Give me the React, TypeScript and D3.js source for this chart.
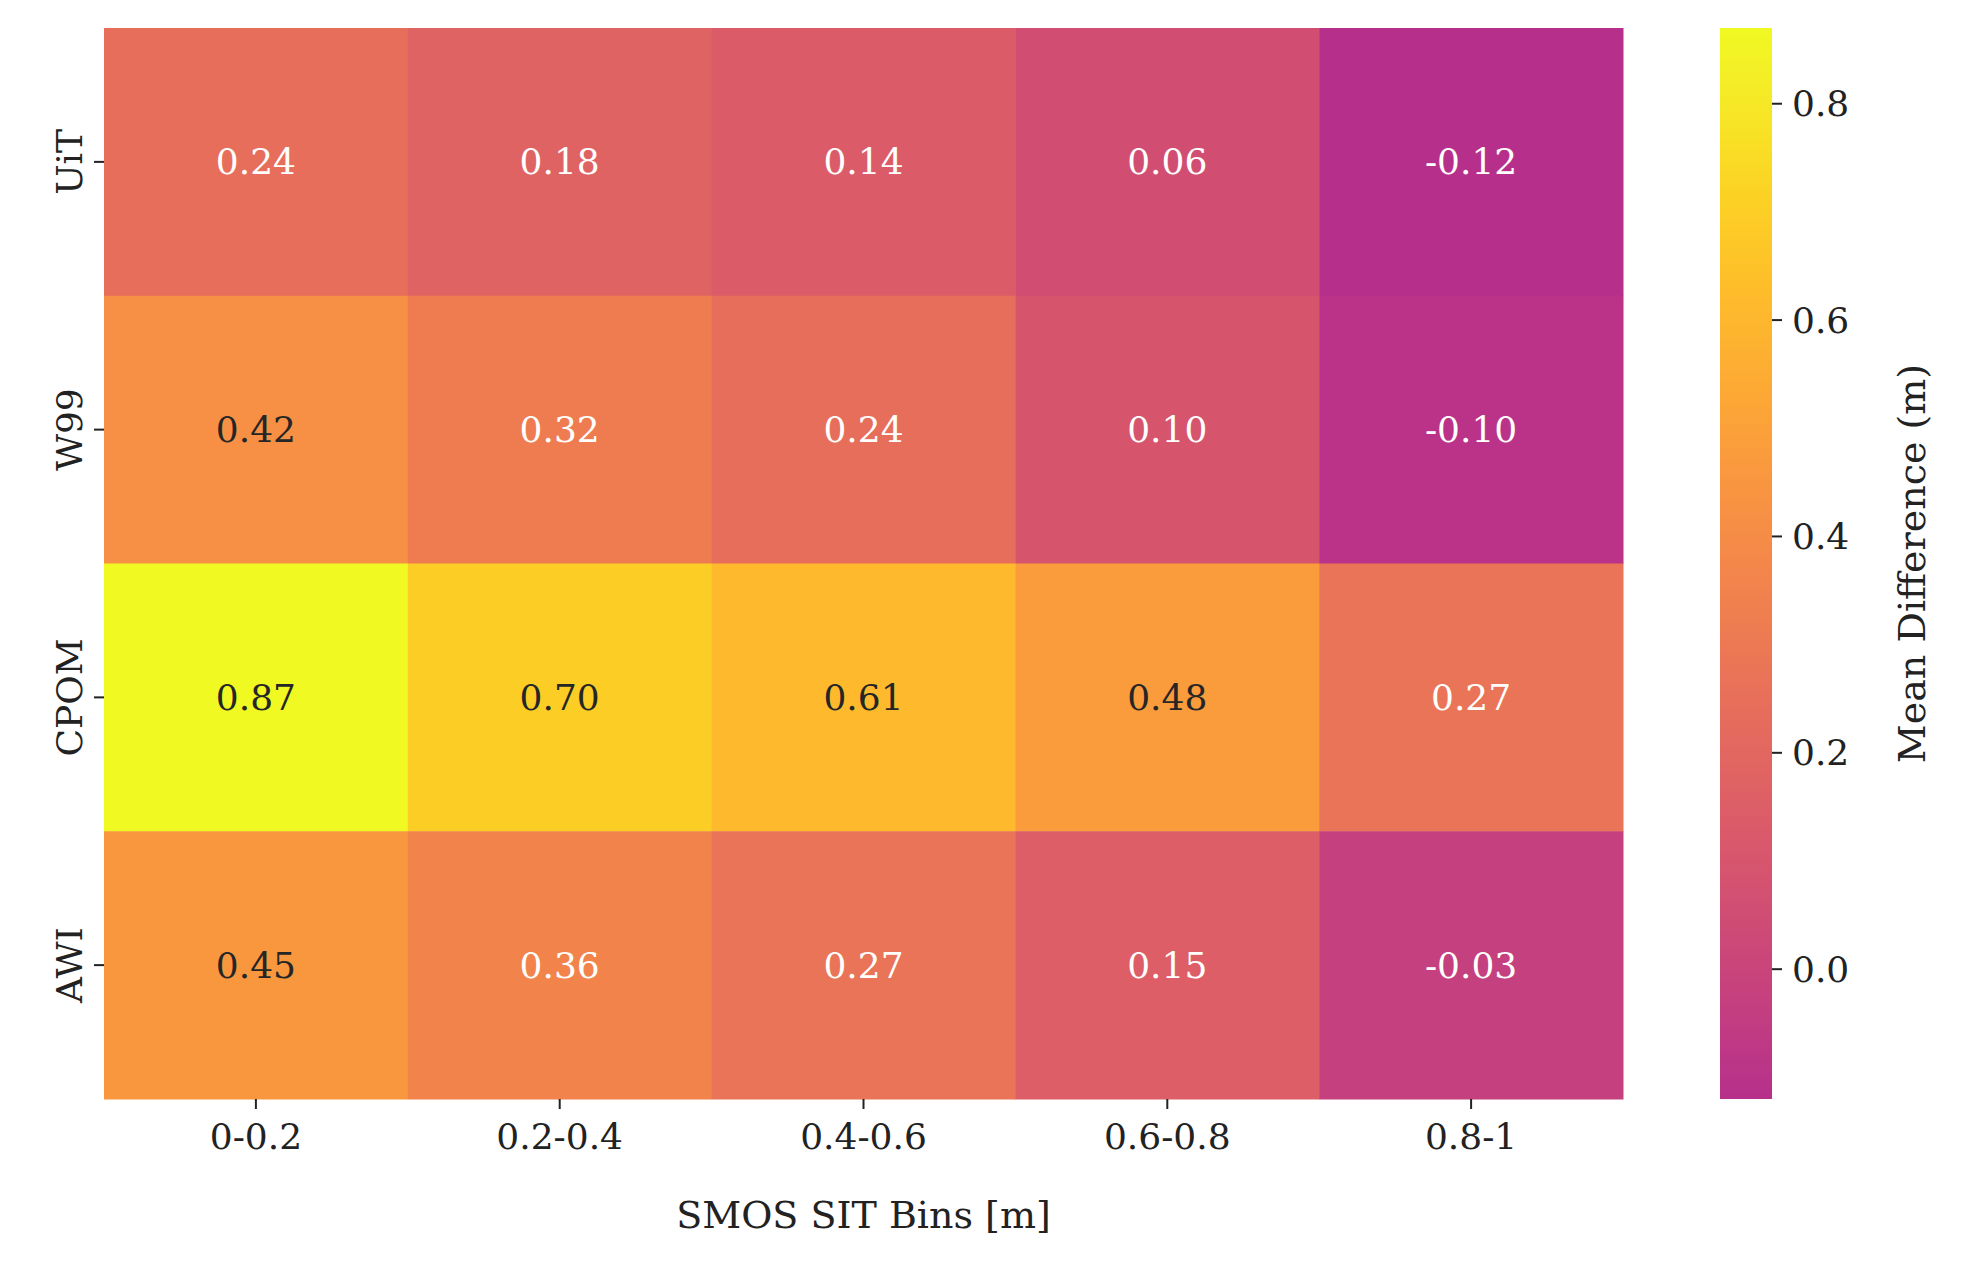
import React from "react";
import * as d3 from "d3";

const rows = ["UiT", "W99", "CPOM", "AWI"];
const cols = ["0-0.2", "0.2-0.4", "0.4-0.6", "0.6-0.8", "0.8-1"];
const values = [
  [0.24, 0.18, 0.14, 0.06, -0.12],
  [0.42, 0.32, 0.24, 0.10, -0.10],
  [0.87, 0.70, 0.61, 0.48, 0.27],
  [0.45, 0.36, 0.27, 0.15, -0.03],
];
const cbTicks = [0.0, 0.2, 0.4, 0.6, 0.8];
const vmin = -0.12, vmax = 0.87;

const font = "DejaVu Serif";
const W = 1961, H = 1266;
const L = 104, R = 1623, T = 28, B = 1099;
const cbL = 1720, cbR = 1772;

export default function App() {
  const x = d3.scaleBand().domain(cols).range([L, R]);
  const y = d3.scaleBand().domain(rows).range([T, B]);
  const color = (v: number) => d3.interpolatePlasma(0.42 + 0.58 * (v - vmin) / (vmax - vmin));
  const cy = d3.scaleLinear().domain([vmin, vmax]).range([B, T]);
  const stops = d3.range(0, 1.0001, 0.05);
  return (
    <svg width={W} height={H} style={{ display: "block", position: "absolute", left: 0, top: 0 }}>
      <defs>
        <linearGradient id="cb" x1="0" y1="1" x2="0" y2="0">
          {stops.map((s) => (
            <stop key={s} offset={s} stopColor={color(vmin + s * (vmax - vmin))} />
          ))}
        </linearGradient>
      </defs>
      <rect width={W} height={H} fill="white" />
      {values.map((row, i) =>
        row.map((v, j) => (
          <g key={`${i}-${j}`}>
            <rect x={x(cols[j])!} y={y(rows[i])!} width={x.bandwidth() + 0.5} height={y.bandwidth() + 0.5} fill={color(v)} />
            <text x={x(cols[j])! + x.bandwidth() / 2} y={y(rows[i])! + y.bandwidth() / 2} dy="0.35em"
              textAnchor="middle" fontFamily={font} fontSize={36} fill={v >= 0.4 ? "#262626" : "white"}>
              {v.toFixed(2)}
            </text>
          </g>
        ))
      )}
      {cols.map((c) => {
        const cx = x(c)! + x.bandwidth() / 2;
        return (
          <g key={c}>
            <line x1={cx} x2={cx} y1={B} y2={B + 10} stroke="#222" strokeWidth={2} />
            <text x={cx} y={B + 50} textAnchor="middle" fontFamily={font} fontSize={36} fill="#222">{c}</text>
          </g>
        );
      })}
      <text x={(L + R) / 2} y={1228} textAnchor="middle" fontFamily={font} fontSize={38} fill="#222">SMOS SIT Bins [m]</text>
      {rows.map((r) => {
        const ry = y(r)! + y.bandwidth() / 2;
        return (
          <g key={r}>
            <line x1={L - 10} x2={L} y1={ry} y2={ry} stroke="#222" strokeWidth={2} />
            <text transform={`translate(${L - 22},${ry}) rotate(-90)`} textAnchor="middle" fontFamily={font} fontSize={36} fill="#222">{r}</text>
          </g>
        );
      })}
      <rect x={cbL} y={T} width={cbR - cbL} height={B - T} fill="url(#cb)" />
      {cbTicks.map((t) => (
        <g key={t}>
          <line x1={cbR} x2={cbR + 10} y1={cy(t)} y2={cy(t)} stroke="#222" strokeWidth={2} />
          <text x={cbR + 20} y={cy(t)} dy="0.35em" fontFamily={font} fontSize={36} fill="#222">{t.toFixed(1)}</text>
        </g>
      ))}
      <text transform={`translate(1925,${(T + B) / 2}) rotate(-90)`} textAnchor="middle" fontFamily={font} fontSize={38} fill="#222">Mean Difference (m)</text>
    </svg>
  );
}
